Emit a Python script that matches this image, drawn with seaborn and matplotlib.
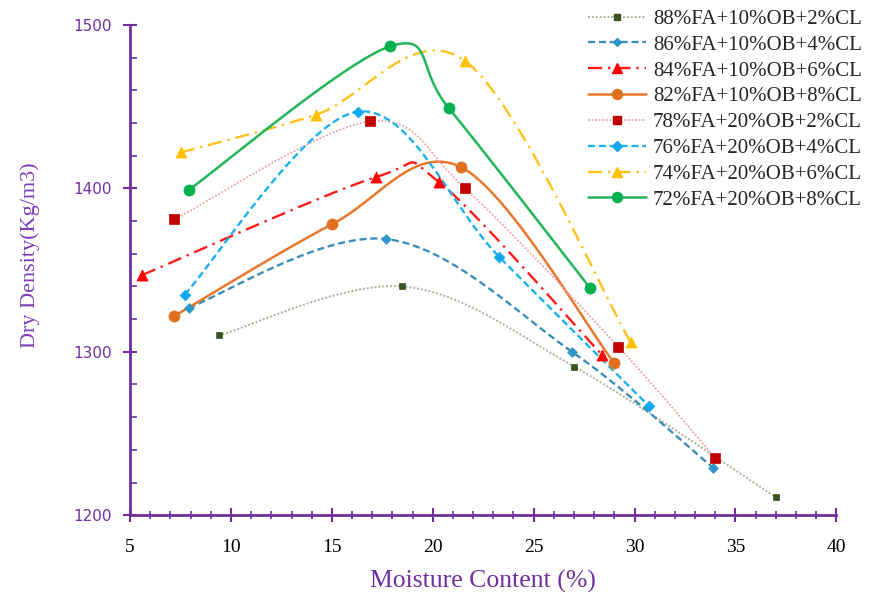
import numpy as np
import pandas as pd
import matplotlib
matplotlib.use("Agg")
import matplotlib.pyplot as plt
from matplotlib.lines import Line2D
from matplotlib.ticker import MultipleLocator
import seaborn as sns

# ---- data ----
labels = ["88%FA+10%OB+2%CL", "86%FA+10%OB+4%CL", "84%FA+10%OB+6%CL", "82%FA+10%OB+8%CL",
          "78%FA+20%OB+2%CL", "76%FA+20%OB+4%CL", "74%FA+20%OB+6%CL", "72%FA+20%OB+8%CL"]
x88 = [9.4, 18.5, 27.0, 37.0]
y88 = [1310, 1340, 1291, 1211]
x86 = [7.9, 17.7, 26.9, 33.9]
y86 = [1327, 1369, 1300, 1229]
x84 = [5.6, 17.2, 20.3, 28.4]
y84 = [1347, 1407, 1404, 1298]
x82 = [7.2, 15.0, 21.4, 29.0]
y82 = [1322, 1378, 1413, 1293]
x78 = [7.2, 16.9, 21.6, 29.2, 34.0]
y78 = [1381, 1441, 1400, 1303, 1235]
x76 = [7.7, 16.3, 23.3, 30.7]
y76 = [1335, 1447, 1358, 1267]
x74 = [7.5, 14.2, 21.6, 29.8]
y74 = [1422, 1445, 1478, 1306]
x72 = [7.9, 17.9, 20.8, 27.8]
y72 = [1399, 1487, 1449, 1339]
xs = [x88, x86, x84, x82, x78, x76, x74, x72]
ys = [y88, y86, y84, y82, y78, y76, y74, y72]

x_ticks = [5, 10, 15, 20, 25, 30, 35, 40]
y_ticks = [1200, 1300, 1400, 1500]

# ---- styles ----
line_colors = ["#a7b39a", "#3d8fb5", "#ff1a1a", "#e8782e", "#e9a3a8", "#1eb0ee", "#ffc21a", "#22b55a"]
marker_colors = ["#3b5220", "#2e96c8", "#ff0000", "#e07020", "#c00000", "#10a8f0", "#ffc000", "#00b050"]
markers = ["s", "D", "^", "o", "s", "D", "^", "o"]
msizes = [5, 5, 8, 8, 6.5, 5.5, 8, 8]
dashes = [(1, 1), (3, 1.6), (6, 2.5, 1, 2.5), "", (1, 1), (3, 1.6), (6, 2.5, 1, 2.5), ""]
lws = [1.4, 1.7, 1.7, 1.8, 1.3, 1.7, 1.7, 1.8]

PURPLE = "#7030a0"


def smooth(x, y, n=40):
    """Excel-like smoothed line (cubic Bezier, Catmull-Rom control points)."""
    P = np.column_stack([x, y]).astype(float)
    m = len(P)
    out = []
    for i in range(m - 1):
        p0 = P[i - 1] if i > 0 else P[i]
        p1 = P[i]
        p2 = P[i + 1]
        p3 = P[i + 2] if i + 2 < m else P[i + 1]
        c1 = p1 + (p2 - p0) / 6.0
        c2 = p2 - (p3 - p1) / 6.0
        t = np.linspace(0, 1, n)[:, None]
        seg = ((1 - t) ** 3) * p1 + 3 * ((1 - t) ** 2) * t * c1 + 3 * (1 - t) * t ** 2 * c2 + t ** 3 * p2
        if i > 0:
            seg = seg[1:]
        out.append(seg)
    c = np.vstack(out)
    return c[:, 0], c[:, 1]


sns.set_style("white")
plt.rcParams["font.family"] = ["Liberation Serif", "DejaVu Serif"]

fig = plt.figure(figsize=(8.73, 6.04), dpi=100)
ax = fig.add_axes([0.149, 0.147, 0.809, 0.8116])

handles = []
for i in range(len(labels)):
    sx, sy = smooth(xs[i], ys[i])
    curve = pd.DataFrame({"x": sx, "y": sy})
    sns.lineplot(data=curve, x="x", y="y", sort=False, estimator=None, ax=ax,
                 color=line_colors[i], lw=lws[i], zorder=2)
    ln = ax.get_lines()[-1]
    if dashes[i] != "":
        ln.set_dashes(dashes[i])
    pts = pd.DataFrame({"x": xs[i], "y": ys[i]})
    sns.scatterplot(data=pts, x="x", y="y", ax=ax, marker=markers[i], s=msizes[i] ** 2,
                    color=marker_colors[i], edgecolor=marker_colors[i], linewidth=0.5, zorder=3)
    h = Line2D([0], [0], color=line_colors[i], lw=lws[i], marker=markers[i],
               markersize=msizes[i] * 0.9, markerfacecolor=marker_colors[i], markeredgecolor=marker_colors[i])
    if dashes[i] != "":
        h.set_dashes(dashes[i])
    handles.append(h)

ax.set_xlim(5, 40)
ax.set_ylim(1200, 1500)
ax.set_xticks(x_ticks)
ax.set_yticks(y_ticks)
ax.xaxis.set_minor_locator(MultipleLocator(1))
ax.yaxis.set_minor_locator(MultipleLocator(20))

for s in ["top", "right"]:
    ax.spines[s].set_visible(False)
for s in ["left", "bottom"]:
    ax.spines[s].set_color(PURPLE)
    ax.spines[s].set_linewidth(2)

ax.tick_params(axis="x", which="major", direction="inout", length=10, width=1.5, color=PURPLE,
               labelsize=14, labelcolor="black", pad=12, bottom=True)
ax.tick_params(axis="x", which="minor", direction="inout", length=6, width=1.2, color=PURPLE, bottom=True)
ax.tick_params(axis="y", which="major", direction="inout", length=10, width=1.5, color=PURPLE,
               labelsize=11, labelcolor=PURPLE, pad=8, left=True)
ax.tick_params(axis="y", which="minor", direction="in", length=5, width=1.2, color=PURPLE, left=True)
for t in ax.get_yticklabels():
    t.set_fontfamily(["DejaVu Sans"])

ax.set_xlabel("Moisture Content (%)", fontsize=18.5, color=PURPLE, labelpad=10)
ax.set_ylabel("Dry Density(Kg/m3)", fontsize=16, color="#7b3fb8")
ax.yaxis.set_label_coords(-0.127, 0.53)

leg = ax.legend(handles, labels, loc="upper left", bbox_to_anchor=(0.637, 1.049), frameon=False,
                fontsize=15, handlelength=2.75, labelspacing=0.3, handletextpad=0.35, borderaxespad=0)

fig.savefig("out.png", dpi=100)
